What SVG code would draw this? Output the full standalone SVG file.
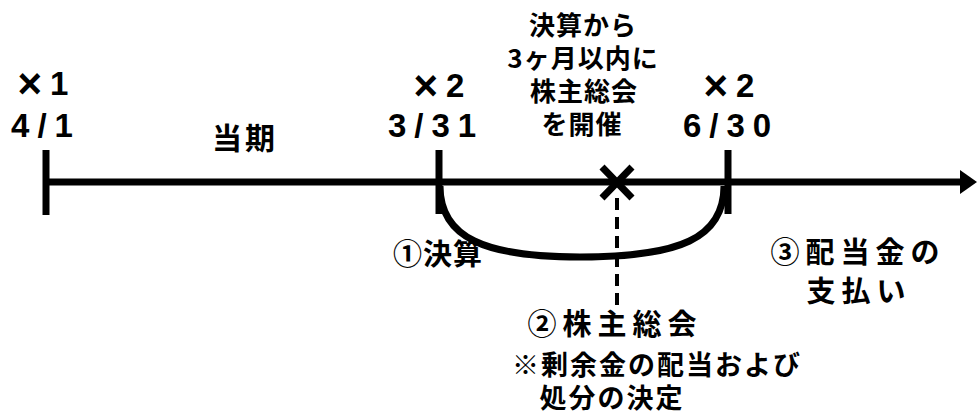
<svg xmlns="http://www.w3.org/2000/svg" width="977" height="415" viewBox="0 0 977 415">
<style>
.t{font-family:"Noto Sans CJK JP","Noto Sans",sans-serif;font-weight:700;fill:#000;text-anchor:middle}
.d{font-family:"Liberation Sans",Arial,sans-serif;font-weight:700;fill:#000;text-anchor:middle;font-size:33px;letter-spacing:8px}
.x{font-size:42px;font-weight:700}
.s{font-size:26px;letter-spacing:1px}
.m{font-size:29px;letter-spacing:6px}
.n{font-size:27px;letter-spacing:2px}
.ln{stroke:#000;fill:none;stroke-width:7}
</style>
<rect width="977" height="415" fill="#fff"/>
<g id="connectors">
<line class="ln" x1="44" y1="182" x2="962" y2="182"/>
<polygon points="960,170 977,182 960,194" fill="#000"/>
<path class="ln" stroke-width="6" d="M440,186 C440,238 485,257 580,257 C680,257 724,238 724,186"/>
<line x1="617" y1="198" x2="617" y2="310" stroke="#000" stroke-width="4" stroke-dasharray="12,7"/>
</g>
<g id="tick-start"><line class="ln" stroke-width="6" x1="46" y1="150" x2="46" y2="215"/></g>
<g id="tick-0331"><line class="ln" stroke-width="6" x1="439" y1="150" x2="439" y2="214"/></g>
<g id="tick-0630"><line class="ln" stroke-width="6" x1="728" y1="150" x2="728" y2="214"/></g>
<g id="meeting-mark"><path class="ln" stroke-width="6" d="M602,167 L632,198 M632,167 L602,198"/></g>
<g id="label-start">
<text class="d" x="47" y="95"><tspan class="x" dy="3">×</tspan><tspan dy="-3">1</tspan></text>
<text class="d" x="46" y="137">4/1</text>
</g>
<g id="label-period"><text class="t" font-size="30" x="245" y="149" letter-spacing="3">当期</text></g>
<g id="label-0331">
<text class="d" x="443" y="97"><tspan class="x" dy="3">×</tspan><tspan dy="-3">2</tspan></text>
<text class="d" x="436" y="137">3/31</text>
</g>
<g id="label-note-top">
<text class="t s" x="583" y="35">決算から</text>
<text class="t s" x="583" y="68">3ヶ月以内に</text>
<text class="t s" x="584" y="101">株主総会</text>
<text class="t s" x="582" y="134">を開催</text>
</g>
<g id="label-0630">
<text class="d" x="733" y="97"><tspan class="x" dy="3">×</tspan><tspan dy="-3">2</tspan></text>
<text class="d" x="731" y="137">6/30</text>
</g>
<g id="step1"><text class="t" font-size="29" letter-spacing="1" x="438" y="265">①決算</text></g>
<g id="step3">
<text class="t m" x="858" y="263">③配当金の</text>
<text class="t m" x="859" y="302">支払い</text>
</g>
<g id="step2">
<text class="t m" x="615" y="335">②株主総会</text>
<text class="t n" x="657" y="375">※剰余金の配当および</text>
<text class="t n" x="612" y="408">処分の決定</text>
</g>
</svg>
